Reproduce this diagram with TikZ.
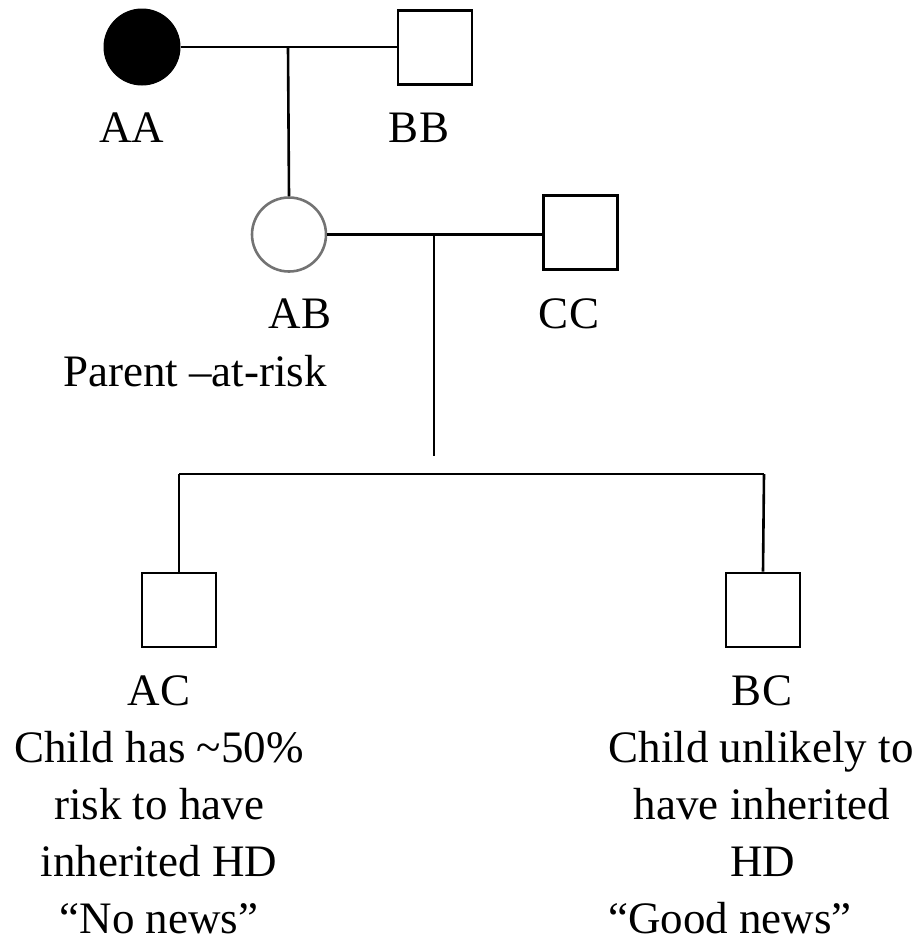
\documentclass[tikz,border=0pt]{standalone}
\usepackage{fontspec}
\setmainfont{Liberation Serif}
\begin{document}
\begin{tikzpicture}[x=1pt,y=-1pt,
  ln/.style={line width=2.6pt},
  male/.style={draw,line width=2.6pt,rectangle,minimum size=74pt,inner sep=0pt},
  affected/.style={circle,fill=black,draw=black,line width=1pt,minimum size=76pt,inner sep=0pt},
  carrier/.style={circle,draw=black!55,line width=2.6pt,minimum size=74pt,inner sep=0pt},
  lbl/.style={anchor=base,inner sep=0pt,font=\fontsize{45}{58}\selectfont}]
\useasboundingbox (0,0) rectangle (915,943);
% individuals
\node[affected] (AA) at (142,47) {};
\node[male] (BB) at (435,47.5) {};
\node[carrier] (AB) at (289,234.5) {};
\node[male] (CC) at (580.5,232.5) {};
\node[male] (AC) at (179,610) {};
\node[male] (BC) at (763,610) {};
% connectors
\coordinate (m1) at (288,47);
\draw[ln] (AA.east) -- (BB.west |- AA.east);
\draw[ln] (m1) -- (AB.north);
\coordinate (m2) at (434,236);
\coordinate (m2b) at (434,456);
\draw[ln] (AB.east) -- (CC.west |- AB.east);
\draw[ln] (m2) -- (m2b);
\coordinate (s1) at (179,474);
\coordinate (s2) at (764,474);
\draw[ln] (s1) -- (s2);
\draw[ln] (s1) -- (AC.north);
\draw[ln] (s2) -- (BC.north);
% labels
\node[lbl] (tAA) at (132,142) {AA};
\node[lbl] (tBB) at (419,142) {BB};
\node[lbl] (tAB) at (300,328) {AB};
\node[lbl] (tPar) at (195,386) {Parent –at-risk};
\node[lbl] (tCC) at (569,328) {CC};
\node[lbl] (tAC) at (159,705) {AC};
\node[lbl] (tAC1) at (159,762) {Child has \textasciitilde50\%};
\node[lbl] (tAC2) at (159,819) {risk to have};
\node[lbl] (tAC3) at (159,876) {inherited HD};
\node[lbl] (tAC4) at (159,933) {“No news”};
\node[lbl] (tBC) at (762,705) {BC};
\node[lbl] (tBC1) at (761,762) {Child unlikely to};
\node[lbl] (tBC2) at (762,819) {have inherited};
\node[lbl] (tBC3) at (763,876) {HD};
\node[lbl] (tBC4) at (730,933) {“Good news”};
\end{tikzpicture}
\end{document}
